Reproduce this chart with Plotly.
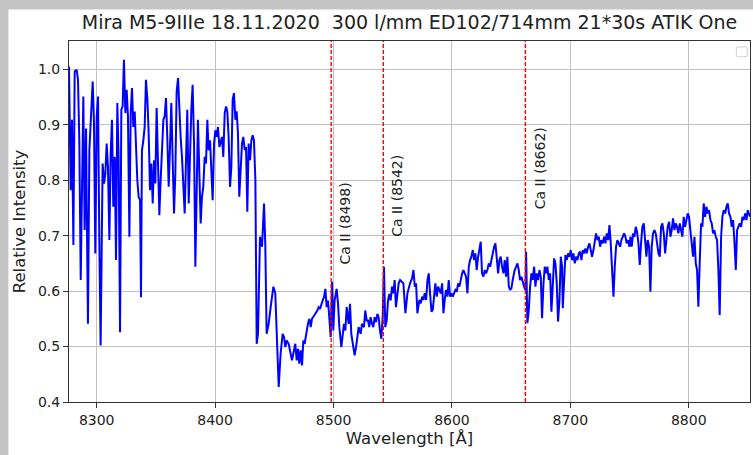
import plotly.graph_objects as go

# Spectrum of Mira: wavelength [Å] and relative intensity
wavelength = [
    8276.6, 8278.0, 8279.1, 8280.3, 8281.4, 8283.1, 8284.2, 8285.3, 8286.5, 8287.6,
    8288.7, 8289.8, 8291.0, 8291.5, 8292.6, 8293.8, 8295.5, 8296.6, 8297.7, 8298.8,
    8300.0, 8301.1, 8302.2, 8303.3, 8305.0, 8306.2, 8307.3, 8308.4, 8309.5, 8310.7,
    8311.8, 8312.9, 8314.0, 8315.2, 8316.3, 8317.4, 8318.5, 8319.7, 8320.8, 8321.9,
    8323.0, 8324.2, 8325.3, 8326.4, 8327.6, 8328.7, 8329.8, 8330.9, 8332.1, 8333.2,
    8334.3, 8335.4, 8336.6, 8337.4, 8338.2, 8339.4, 8340.5, 8341.6, 8342.8, 8343.9,
    8345.0, 8346.1, 8347.3, 8348.4, 8349.5, 8350.6, 8351.8, 8352.9, 8354.0, 8355.1,
    8356.3, 8357.4, 8358.5, 8359.6, 8360.8, 8361.9, 8363.0, 8364.1, 8365.3, 8366.4,
    8367.5, 8368.7, 8369.8, 8370.9, 8372.0, 8373.2, 8374.3, 8375.4, 8376.5, 8377.7,
    8378.8, 8379.9, 8381.0, 8382.2, 8383.3, 8384.4, 8385.5, 8386.7, 8387.8, 8388.9,
    8390.0, 8391.2, 8392.3, 8393.4, 8394.5, 8395.7, 8396.8, 8397.9, 8399.1, 8400.2,
    8401.3, 8402.4, 8403.6, 8404.7, 8405.8, 8406.9, 8408.1, 8409.2, 8410.3, 8411.4,
    8412.6, 8413.7, 8414.8, 8415.9, 8417.1, 8418.2, 8419.3, 8420.4, 8421.6, 8422.7,
    8423.8, 8425.0, 8426.1, 8427.2, 8428.3, 8429.5, 8430.6, 8431.7, 8432.8, 8434.0,
    8435.1, 8436.2, 8437.9, 8439.6, 8441.3, 8442.4, 8443.5, 8445.2, 8446.9, 8449.2,
    8450.8, 8452.0, 8453.7, 8455.3, 8457.0, 8458.2, 8459.3, 8460.4, 8462.1, 8463.2,
    8464.9, 8466.0, 8467.7, 8468.9, 8470.0, 8471.1, 8472.2, 8473.4, 8474.5, 8475.6,
    8476.7, 8478.4, 8479.6, 8480.7, 8481.8, 8482.9, 8484.6, 8486.3, 8487.4, 8488.6,
    8489.7, 8490.8, 8491.9, 8493.1, 8494.2, 8495.3, 8496.4, 8497.6, 8498.7, 8499.8,
    8500.9, 8502.6, 8503.8, 8504.9, 8506.6, 8507.7, 8508.8, 8510.0, 8511.1, 8512.8,
    8513.9, 8515.0, 8516.1, 8517.8, 8519.0, 8520.1, 8521.2, 8522.9, 8524.0, 8525.7,
    8526.8, 8528.0, 8529.1, 8530.2, 8531.3, 8532.5, 8533.6, 8534.7, 8535.9, 8537.0,
    8538.1, 8539.2, 8540.4, 8541.5, 8542.6, 8543.7, 8544.9, 8546.0, 8547.1, 8548.2,
    8549.4, 8550.5, 8551.6, 8552.7, 8553.9, 8555.0,
    8556.2, 8559.0, 8560.7, 8562.4, 8564.6, 8566.3, 8567.5, 8568.6, 8569.7, 8570.8,
    8572.5, 8573.7, 8574.8, 8575.9, 8577.0, 8578.2, 8579.3, 8580.4, 8581.5, 8582.7,
    8583.8, 8584.9, 8586.0, 8587.2, 8588.3, 8589.4, 8590.5, 8591.7, 8592.8, 8593.9,
    8595.0, 8596.2, 8597.3, 8598.4, 8599.6, 8600.7, 8601.8, 8602.9, 8604.1, 8605.2,
    8606.3, 8607.4, 8608.6, 8609.7, 8610.8, 8611.9, 8613.1, 8614.2, 8615.3, 8616.4,
    8617.6, 8618.7, 8619.8, 8620.9, 8622.1, 8623.2, 8624.3, 8625.4, 8626.6, 8627.7,
    8628.8, 8629.9, 8631.1, 8632.2, 8633.3, 8634.5, 8635.6, 8636.7, 8637.8, 8639.0,
    8640.1, 8641.2, 8642.3, 8643.5, 8644.6, 8645.7, 8646.8, 8648.0, 8649.1, 8650.2,
    8651.3, 8652.5,
    8653.0, 8654.2, 8655.3, 8656.4, 8657.5, 8658.7, 8659.8, 8660.9, 8662.0, 8662.6,
    8663.7, 8664.9, 8666.0, 8667.1, 8668.2, 8669.4, 8670.5, 8671.6, 8672.7, 8673.9,
    8675.0, 8676.1, 8677.3, 8678.4, 8679.5, 8680.6, 8681.8, 8682.9, 8684.0, 8685.1,
    8686.3, 8687.4, 8688.5, 8689.6, 8690.8, 8691.9, 8693.0, 8693.6, 8694.7, 8695.8,
    8697.0, 8698.1, 8699.2, 8700.3, 8701.5, 8702.6, 8703.7, 8704.8, 8706.0, 8707.1,
    8708.2, 8709.3, 8710.5, 8711.6, 8712.7, 8713.8, 8715.0, 8716.1, 8717.2, 8718.3,
    8719.5, 8720.6, 8721.7, 8722.9, 8724.0, 8725.1, 8726.2, 8727.4, 8728.5, 8729.6,
    8730.7, 8731.9, 8733.0, 8734.1, 8735.2, 8736.4, 8737.5, 8738.6, 8739.7, 8740.9,
    8742.0, 8743.1, 8744.2, 8745.4, 8746.5, 8747.6, 8748.8, 8749.9,
    8750.7, 8751.8, 8753.0, 8754.1, 8755.2, 8756.3, 8757.5, 8758.6, 8759.7, 8760.8,
    8762.0, 8763.1, 8764.2, 8765.3, 8766.5, 8767.6, 8768.7, 8769.8, 8771.0, 8772.1,
    8773.2, 8774.4, 8775.5, 8776.6, 8777.7, 8778.9, 8780.0, 8781.1, 8782.2, 8783.4,
    8784.5, 8785.6, 8786.7, 8787.9, 8789.0, 8790.1, 8791.2, 8792.4, 8793.5, 8794.6,
    8795.7, 8796.9, 8798.0, 8799.1, 8800.2, 8801.4, 8802.5, 8803.6, 8804.8, 8805.9,
    8807.0, 8808.1, 8809.3, 8810.4, 8811.5, 8812.6, 8813.8, 8814.9, 8816.0, 8817.1,
    8818.3, 8819.4, 8820.5, 8821.6, 8822.8, 8823.9, 8825.0, 8826.1, 8827.3, 8828.4,
    8829.5, 8830.7, 8831.8, 8832.9, 8834.0, 8835.2, 8836.3, 8837.4, 8838.5, 8839.7,
    8840.8, 8841.9, 8843.0, 8844.2, 8845.3, 8846.4, 8847.6, 8848.7, 8849.8, 8851.7,
]

intensity = [
    1.005, 0.782, 0.909, 0.683, 0.996, 0.999, 0.981, 0.872, 0.620, 0.770,
    0.951, 0.710, 0.893, 0.770, 0.541, 0.854, 0.945, 0.978, 0.903, 0.668,
    0.915, 0.951, 0.692, 0.502, 0.830, 0.794, 0.812, 0.866, 0.824, 0.692,
    0.848, 0.909, 0.752, 0.842, 0.656, 0.939, 0.842, 0.526, 0.927, 0.933,
    1.017, 0.921, 0.963, 0.915, 0.698, 0.921, 0.966, 0.896, 0.924, 0.842,
    0.800, 0.770, 0.764, 0.589, 0.854, 0.872, 0.896, 0.981, 0.945, 0.884,
    0.782, 0.830, 0.758, 0.836, 0.794, 0.930, 0.830, 0.737, 0.800, 0.854,
    0.909, 0.915, 0.948, 0.878, 0.788, 0.860, 0.939, 0.842, 0.740, 0.812,
    0.960, 0.984, 0.921, 0.878, 0.842, 0.794, 0.740, 0.836, 0.927, 0.758,
    0.854, 0.927, 0.972, 0.866, 0.644, 0.824, 0.909, 0.812, 0.722, 0.770,
    0.788, 0.842, 0.830, 0.909, 0.854, 0.872, 0.824, 0.764, 0.866, 0.890,
    0.878, 0.896, 0.860, 0.872, 0.878, 0.842, 0.921, 0.933, 0.924, 0.878,
    0.788, 0.824, 0.945, 0.957, 0.909, 0.924, 0.884, 0.770, 0.824, 0.866,
    0.878, 0.854, 0.860, 0.743, 0.866, 0.836, 0.872, 0.881, 0.872, 0.800,
    0.505, 0.523, 0.698, 0.680, 0.758, 0.680, 0.523, 0.541, 0.571, 0.608,
    0.596, 0.511, 0.427, 0.487, 0.523, 0.517, 0.499, 0.511, 0.505, 0.493,
    0.475, 0.487, 0.505, 0.475, 0.496, 0.469, 0.493, 0.466, 0.511, 0.505,
    0.523, 0.541, 0.550, 0.535, 0.550, 0.553, 0.559, 0.565, 0.571, 0.568,
    0.577, 0.583, 0.589, 0.604, 0.571, 0.583, 0.553, 0.517, 0.617, 0.529,
    0.583, 0.604, 0.577, 0.535, 0.499, 0.523, 0.541, 0.529, 0.571, 0.541,
    0.577, 0.523, 0.505, 0.484, 0.499, 0.523, 0.535, 0.523, 0.541, 0.535,
    0.565, 0.547, 0.547, 0.535, 0.553, 0.541, 0.535, 0.553, 0.544, 0.559,
    0.553, 0.529, 0.514, 0.553, 0.644, 0.535, 0.547, 0.583, 0.595, 0.583,
    0.608, 0.596, 0.620, 0.571, 0.596, 0.614,
    0.620, 0.614, 0.560, 0.596, 0.614, 0.623, 0.638, 0.608, 0.614, 0.560,
    0.584, 0.578, 0.590, 0.584, 0.596, 0.584, 0.620, 0.632, 0.596, 0.563,
    0.566, 0.596, 0.614, 0.590, 0.608, 0.602, 0.596, 0.614, 0.560, 0.584,
    0.602, 0.590, 0.620, 0.590, 0.596, 0.590, 0.596, 0.602, 0.599, 0.614,
    0.608, 0.620, 0.632, 0.638, 0.632, 0.626, 0.596, 0.644, 0.656, 0.662,
    0.674, 0.656, 0.668, 0.638, 0.662, 0.674, 0.689, 0.632, 0.626, 0.638,
    0.632, 0.638, 0.650, 0.644, 0.656, 0.674, 0.680, 0.686, 0.662, 0.632,
    0.656, 0.662, 0.644, 0.632, 0.656, 0.626, 0.662, 0.608, 0.602, 0.605,
    0.620, 0.638,
    0.638, 0.644, 0.650, 0.638, 0.620, 0.626, 0.614, 0.608, 0.602, 0.671,
    0.542, 0.566, 0.608, 0.632, 0.620, 0.644, 0.608, 0.632, 0.620, 0.638,
    0.626, 0.551, 0.614, 0.644, 0.632, 0.644, 0.620, 0.632, 0.563, 0.614,
    0.659, 0.650, 0.614, 0.545, 0.584, 0.662, 0.644, 0.569, 0.626, 0.665,
    0.656, 0.668, 0.662, 0.674, 0.656, 0.668, 0.650, 0.662, 0.656, 0.668,
    0.671, 0.656, 0.674, 0.668, 0.677, 0.668, 0.680, 0.686, 0.674, 0.662,
    0.674, 0.686, 0.704, 0.692, 0.698, 0.680, 0.692, 0.686, 0.698, 0.686,
    0.704, 0.692, 0.719, 0.686, 0.644, 0.590, 0.644, 0.680, 0.692, 0.686,
    0.680, 0.692, 0.698, 0.704, 0.698, 0.686, 0.692, 0.680,
    0.698, 0.680, 0.704, 0.698, 0.716, 0.707, 0.686, 0.647, 0.686, 0.716,
    0.722, 0.692, 0.662, 0.692, 0.680, 0.599, 0.680, 0.704, 0.710, 0.704,
    0.686, 0.668, 0.662, 0.716, 0.722, 0.704, 0.668, 0.698, 0.716, 0.725,
    0.698, 0.710, 0.731, 0.710, 0.722, 0.716, 0.704, 0.722, 0.710, 0.698,
    0.734, 0.716, 0.728, 0.740, 0.734, 0.710, 0.680, 0.662, 0.698, 0.650,
    0.638, 0.572, 0.656, 0.722, 0.716, 0.758, 0.734, 0.752, 0.740, 0.746,
    0.728, 0.722, 0.704, 0.710, 0.698, 0.692, 0.638, 0.557, 0.698, 0.734,
    0.746, 0.740, 0.752, 0.758, 0.740, 0.734, 0.716, 0.728, 0.692, 0.638,
    0.710, 0.716, 0.722, 0.716, 0.734, 0.728, 0.740, 0.728, 0.746, 0.734,
]

# Ca II triplet markers
line_labels = ["Ca II (8498)", "Ca II (8542)", "Ca II (8662)"]
line_positions = [8498, 8542, 8662]
label_heights = [0.645, 0.695, 0.743]

x_ticks = [8300, 8400, 8500, 8600, 8700, 8800]
y_ticks = [0.4, 0.5, 0.6, 0.7, 0.8, 0.9, 1.0]

FONT = "DejaVu Sans"
TEXT = "#222222"

fig = go.Figure()
fig.add_trace(go.Scatter(
    x=wavelength, y=intensity, mode="lines",
    line=dict(color="#0000ff", width=2),
    showlegend=False, hoverinfo="skip",
))

shapes = [
    # white figure area inside the grey frame
    dict(type="rect", xref="paper", yref="paper",
         x0=-0.089, x1=1.01, y0=-0.2, y1=1.087,
         fillcolor="white", line=dict(width=0), layer="below"),
]
for pos in line_positions:
    shapes.append(dict(type="line", xref="x", yref="paper",
                       x0=pos, x1=pos, y0=0, y1=1,
                       line=dict(color="#ff0000", width=1.4, dash="4px,2px")))
# empty legend frame
shapes.append(dict(type="path", xref="paper", yref="paper",
                   path="M 0.9815,0.9835 L 0.9945,0.9835 Q 0.9960,0.9835 0.9960,0.980 "
                        "L 0.9960,0.960 Q 0.9960,0.9565 0.9945,0.9565 L 0.9815,0.9565 "
                        "Q 0.9800,0.9565 0.9800,0.960 L 0.9800,0.980 Q 0.9800,0.9835 0.9815,0.9835 Z",
                   line=dict(color="#d0d0d0", width=1), fillcolor="white"))

annotations = []
for lbl, pos, h in zip(line_labels, line_positions, label_heights):
    annotations.append(dict(x=pos + 3.5, y=h, xref="x", yref="y", text=lbl,
                            textangle=-90, showarrow=False,
                            xanchor="left", yanchor="bottom",
                            font=dict(family=FONT, size=14, color=TEXT)))

fig.update_layout(
    width=753, height=455,
    margin=dict(l=69, r=3, t=41, b=53),
    paper_bgcolor="#c4c4c4",
    plot_bgcolor="white",
    shapes=shapes,
    annotations=annotations,
    title=dict(text="Mira M5-9IIIe 18.11.2020  300 l/mm ED102/714mm 21*30s ATIK One",
               x=0.5, xref="paper", xanchor="center",
               y=1 - 22 / 455, yanchor="middle",
               font=dict(family=FONT, size=19, color=TEXT)),
    font=dict(family=FONT, color=TEXT),
    xaxis=dict(
        range=[8276.6, 8851.7], tickvals=x_ticks,
        ticks="outside", ticklen=5, tickwidth=1, tickcolor="#333333",
        showline=True, linecolor="#333333", linewidth=1, mirror=True,
        showgrid=True, gridcolor="#c2c2c2", gridwidth=1, zeroline=False,
        tickfont=dict(size=14, color=TEXT),
        title=dict(text="Wavelength [Å]", font=dict(size=16.5, color=TEXT), standoff=5),
    ),
    yaxis=dict(
        range=[0.4, 1.051], tickvals=y_ticks, tickformat=".1f",
        ticks="outside", ticklen=5, tickwidth=1, tickcolor="#333333",
        showline=True, linecolor="#333333", linewidth=1, mirror=True,
        showgrid=True, gridcolor="#c2c2c2", gridwidth=1, zeroline=False,
        tickfont=dict(size=14, color=TEXT),
        title=dict(text="Relative Intensity", font=dict(size=16.5, color=TEXT), standoff=8),
    ),
)

fig.write_html("out.html")
